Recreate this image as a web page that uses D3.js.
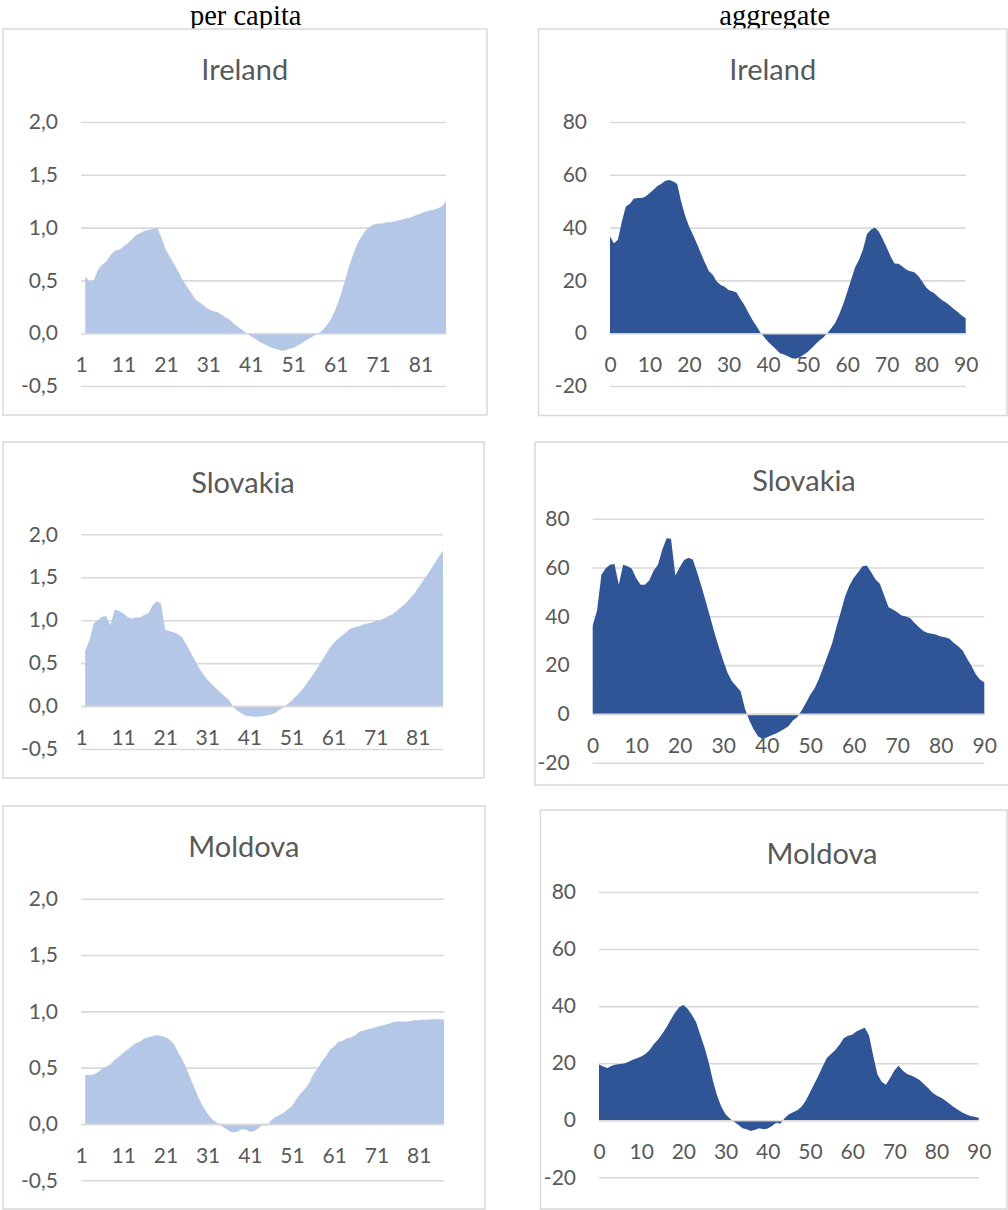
<!DOCTYPE html>
<html><head><meta charset="utf-8">
<script src="https://cdn.jsdelivr.net/npm/d3@7"></script>
<style>
html,body{margin:0;padding:0;background:#fff;}
svg{display:block;}
</style></head><body>
<svg id="chart" width="1008" height="1210"></svg>
<script>
// ---------- DATA ----------
const columnHeaders = ["per capita", "aggregate"];
const countries = ["Ireland", "Slovakia", "Moldova"];

// per capita series: categories 2..87 (axis categories 1..87)
const perCapitaFirstCategory = 2;
const perCapitaLastCategory = 87;
const perCapitaTicksX = [1, 11, 21, 31, 41, 51, 61, 71, 81];
const perCapitaTicksY = [-0.5, 0, 0.5, 1.0, 1.5, 2.0];

const irelandPC = [0.54,0.49,0.50,0.60,0.65,0.68,0.74,0.78,0.79,0.82,0.85,0.89,0.93,0.95,0.97,0.98,0.99,1.00,
  0.90,0.79,0.72,0.65,0.58,0.50,0.44,0.38,0.32,0.29,0.26,0.23,0.21,0.20,0.18,0.15,0.13,0.09,0.06,0.03,0.00,
  -0.03,-0.05,-0.08,-0.10,-0.12,-0.14,-0.15,-0.165,-0.165,-0.15,-0.14,-0.12,-0.095,-0.07,-0.045,-0.025,0.00,
  0.03,0.08,0.14,0.23,0.34,0.47,0.61,0.73,0.84,0.91,0.97,1.01,1.03,1.04,1.04,1.05,1.05,1.06,1.07,1.08,1.09,1.10,1.12,1.13,1.15,1.16,1.17,1.18,1.20,1.25];

const slovakiaPC = [0.65,0.76,0.96,1.00,1.04,1.05,0.94,1.12,1.11,1.08,1.04,1.02,1.03,1.03,1.06,1.08,1.17,1.22,1.19,
  0.89,0.87,0.86,0.84,0.80,0.72,0.63,0.54,0.45,0.37,0.31,0.26,0.21,0.16,0.12,0.08,
  0.00,-0.05,-0.08,-0.11,-0.12,-0.125,-0.125,-0.12,-0.11,-0.10,-0.085,-0.05,-0.02,
  0.02,0.06,0.11,0.16,0.22,0.29,0.36,0.43,0.51,0.59,0.67,0.73,0.78,0.82,0.86,0.90,0.92,0.93,0.95,0.96,0.97,0.99,1.00,1.02,1.05,1.07,1.11,1.15,1.19,1.24,1.30,1.37,1.44,1.51,1.58,1.66,1.74,1.81];

const moldovaPC = [0.435,0.435,0.44,0.46,0.49,0.51,0.53,0.57,0.60,0.63,0.66,0.69,0.72,0.73,0.76,0.77,0.78,0.79,0.78,
  0.77,0.75,0.71,0.64,0.57,0.49,0.40,0.31,0.22,0.15,0.09,0.045,0.015,
  -0.01,-0.035,-0.06,-0.075,-0.07,-0.05,-0.05,-0.07,-0.065,-0.04,-0.01,-0.02,
  0.03,0.06,0.08,0.10,0.13,0.16,0.22,0.27,0.31,0.36,0.44,0.49,0.55,0.60,0.66,0.69,0.73,0.74,0.76,0.77,0.79,0.82,0.83,0.84,0.85,0.86,0.87,0.88,0.89,0.905,0.91,0.91,0.91,0.915,0.92,0.92,0.925,0.925,0.93,0.93,0.93,0.925];

// aggregate series: ages 0..90
const aggregateFirstAge = 0;
const aggregateTicksX = [0, 10, 20, 30, 40, 50, 60, 70, 80, 90];
const aggregateTicksY = [-20, 0, 20, 40, 60, 80];

const irelandAgg = [36.6,34.1,35.4,42.3,48.0,48.9,50.9,51.2,51.2,51.8,
  53.0,54.3,55.8,56.6,57.7,58.0,57.5,56.5,49.9,44.6,
  40.4,37.3,33.9,30.3,26.8,23.6,22.1,19.6,18.3,17.6,
  16.4,16.0,15.4,13.0,10.7,7.8,5.1,2.8,0.4,-1.4,
  -3.2,-4.7,-6.1,-7.6,-8.1,-8.7,-9.5,-9.7,-9.1,-8.2,
  -7.1,-5.7,-4.2,-2.8,-1.6,0.1,1.9,4.0,7.2,11.0,
  15.5,20.2,24.9,27.8,31.6,37.5,39.2,40.0,38.5,35.7,
  32.5,29.1,26.4,26.3,25.3,24.0,23.5,23.1,21.7,19.6,
  17.3,16.0,15.2,13.8,12.6,11.6,10.5,9.2,8.0,6.7,5.7];

const slovakiaAgg = [36.2,42.4,57.0,59.7,61.1,61.4,52.9,61.1,60.5,59.5,
  55.6,52.9,52.9,54.7,58.8,61.1,67.4,72.0,71.8,56.7,
  60.1,63.1,64.0,63.3,58.1,52.2,46.1,39.6,33.2,27.3,
  21.9,16.8,13.4,11.3,9.3,2.1,-2.7,-6.4,-9.2,-10.3,
  -9.7,-8.9,-8.1,-7.2,-6.2,-5.1,-2.7,-1.4,1.4,4.5,
  7.8,10.5,14.4,19.1,23.9,28.7,35.5,41.7,48.1,52.6,
  55.8,58.1,60.5,60.8,58.1,55.1,53.3,48.5,43.7,42.8,
  41.7,40.3,39.9,39.2,37.3,35.5,34.0,33.2,32.8,32.4,
  31.7,31.4,30.8,29.1,27.7,26.0,22.8,19.8,16.4,14.1,13.0];

const moldovaAgg = [19.5,18.8,18.3,19.1,19.5,19.7,19.9,20.5,21.2,21.7,
  22.3,23.2,24.6,26.7,28.3,30.3,32.6,35.2,37.7,39.6,
  40.4,39.1,37.0,34.4,30.0,25.6,20.3,13.8,8.6,4.7,
  2.1,0.6,-0.5,-1.6,-2.8,-3.2,-3.8,-3.3,-2.8,-3.2,
  -2.9,-2.0,-0.9,-1.2,0.7,2.1,2.8,3.5,4.7,6.8,
  9.7,12.7,15.6,18.8,21.8,23.2,24.6,26.5,28.7,29.6,
  30.0,31.1,31.8,32.4,29.7,22.6,16.0,13.5,12.4,14.8,
  17.4,19.1,17.4,16.2,15.7,15.0,14.1,12.7,11.3,9.7,
  8.7,8.0,7.0,5.9,4.7,3.8,2.8,2.1,1.5,1.2,0.9];

// ---------- LAYOUT ----------
const lightFill = "#B4C7E7";
const darkFill = "#2F5597";
const gridColor = "#D9D9D9";
const textColor = "#595959";
const tickFont = "Lato, 'Open Sans', sans-serif";

const panels = [
  {title: countries[0], kind: "pc", values: irelandPC, box: [3, 29, 487, 415], grid: [81, 446, 122, 386], tx: 244.7, ty: 70},
  {title: countries[0], kind: "agg", values: irelandAgg, box: [538.5, 29, 1007, 415.5], grid: [610, 965.7, 122, 386], tx: 772.7, ty: 70},
  {title: countries[1], kind: "pc", values: slovakiaPC, box: [3, 442, 484, 778], grid: [81, 443, 534.3, 749], tx: 243, ty: 483},
  {title: countries[1], kind: "agg", values: slovakiaAgg, box: [535, 442, 1012, 785], grid: [592.7, 984.3, 518.7, 762.7], tx: 804, ty: 480.7},
  {title: countries[2], kind: "pc", values: moldovaPC, box: [3, 806, 485, 1209], grid: [81, 444, 898.7, 1180.3], tx: 243.8, ty: 847},
  {title: countries[2], kind: "agg", values: moldovaAgg, box: [540.5, 810, 1007, 1209], grid: [599, 978.7, 892, 1177.3], tx: 822, ty: 854}
];

const svg = d3.select("#chart");

// column headers
const headerFont = "'Liberation Serif','Times New Roman',serif";
svg.append("text").attr("x", 245.7).attr("y", 25).attr("text-anchor", "middle")
  .attr("font-family", headerFont).attr("font-size", 28.5).attr("fill", "#000")
  .text(columnHeaders[0]);
svg.append("text").attr("x", 774.7).attr("y", 25).attr("text-anchor", "middle")
  .attr("font-family", headerFont).attr("font-size", 28.5).attr("fill", "#000")
  .text(columnHeaders[1]);

const fmtPC = v => v.toFixed(1).replace(".", ",");
const fmtAgg = v => String(v);

panels.forEach(p => {
  const g = svg.append("g");
  const [bx0, by0, bx1, by1] = p.box;
  const [gl, gr, gt, gb] = p.grid;

  g.append("rect").attr("x", bx0).attr("y", by0).attr("width", bx1 - bx0).attr("height", by1 - by0)
    .attr("fill", "#fff").attr("stroke", gridColor).attr("stroke-width", 1.5);

  const isPC = p.kind === "pc";
  const x = d3.scaleLinear()
    .domain(isPC ? [1, perCapitaLastCategory] : [0, 90])
    .range([gl, gr]);
  const y = d3.scaleLinear()
    .domain(isPC ? [-0.5, 2.0] : [-20, 80])
    .range([gb, gt]);

  const first = isPC ? perCapitaFirstCategory : aggregateFirstAge;
  const pts = p.values.map((v, i) => ({c: first + i, v}));

  // y axis with gridlines
  const ya = g.append("g").attr("transform", `translate(${gl},0)`)
    .call(d3.axisLeft(y).tickValues(isPC ? perCapitaTicksY : aggregateTicksY)
      .tickSize(-(gr - gl)).tickPadding(23).tickFormat(isPC ? fmtPC : fmtAgg));
  ya.select(".domain").remove();
  ya.selectAll(".tick line").attr("stroke", gridColor).attr("stroke-width", 1.6);
  ya.selectAll(".tick text").attr("fill", textColor).attr("font-family", tickFont).attr("font-size", 21);

  // area
  const area = d3.area().x(d => x(d.c)).y0(y(0)).y1(d => y(d.v));
  g.append("path").datum(pts).attr("d", area).attr("fill", isPC ? lightFill : darkFill);

  // horizontal axis at zero
  const xa = g.append("g").attr("transform", `translate(0,${y(0)})`)
    .call(d3.axisBottom(x).tickValues(isPC ? perCapitaTicksX : aggregateTicksX)
      .tickSize(0).tickPadding(24).tickFormat(d => String(d)));
  xa.select(".domain").attr("stroke", gridColor).attr("stroke-width", 1.6);
  xa.selectAll(".tick text").attr("fill", textColor).attr("font-family", tickFont).attr("font-size", 21);

  // title
  g.append("text").attr("x", p.tx).attr("y", p.ty + 10).attr("text-anchor", "middle")
    .attr("font-family", tickFont).attr("font-size", 29).attr("fill", textColor).text(p.title);
});
</script>
</body></html>
